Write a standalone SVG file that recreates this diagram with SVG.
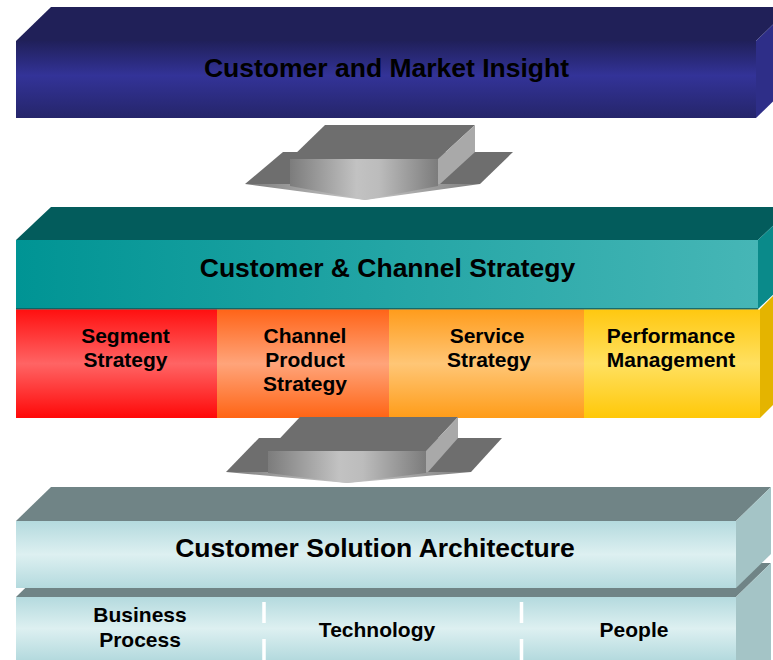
<svg xmlns="http://www.w3.org/2000/svg" width="773" height="660" viewBox="0 0 773 660">
  <style>
    text { font-family: "Liberation Sans", Arial, sans-serif; font-weight: bold; fill: #000; text-anchor: middle; }
    .title { font-size: 26.5px; }
    .sub { font-size: 21px; }
    .arrowTop { fill: #6e6e6e; }
    .arrowSide { fill: #a9a9a9; }
  </style>
  <defs>
    <linearGradient id="blueFront" x1="0" y1="0" x2="0" y2="1">
      <stop offset="0" stop-color="#20205a"/>
      <stop offset="0.45" stop-color="#333398"/>
      <stop offset="1" stop-color="#25256a"/>
    </linearGradient>
    <linearGradient id="tealFront" x1="0" y1="0" x2="1" y2="0">
      <stop offset="0" stop-color="#009494"/>
      <stop offset="1" stop-color="#46b6b6"/>
    </linearGradient>
    <linearGradient id="redCell" x1="0" y1="0" x2="0" y2="1">
      <stop offset="0" stop-color="#ff1010"/>
      <stop offset="0.5" stop-color="#ff6464"/>
      <stop offset="1" stop-color="#ff0808"/>
    </linearGradient>
    <linearGradient id="orangeCell" x1="0" y1="0" x2="0" y2="1">
      <stop offset="0" stop-color="#ff6418"/>
      <stop offset="0.5" stop-color="#ffa47a"/>
      <stop offset="1" stop-color="#ff6414"/>
    </linearGradient>
    <linearGradient id="amberCell" x1="0" y1="0" x2="0" y2="1">
      <stop offset="0" stop-color="#ff9c1c"/>
      <stop offset="0.5" stop-color="#ffc676"/>
      <stop offset="1" stop-color="#ff9c18"/>
    </linearGradient>
    <linearGradient id="yellowCell" x1="0" y1="0" x2="0" y2="1">
      <stop offset="0" stop-color="#ffc810"/>
      <stop offset="0.5" stop-color="#ffe060"/>
      <stop offset="1" stop-color="#ffc808"/>
    </linearGradient>
    <linearGradient id="paleFront" x1="0" y1="0" x2="0" y2="1">
      <stop offset="0" stop-color="#b4dade"/>
      <stop offset="0.5" stop-color="#ddf0f1"/>
      <stop offset="1" stop-color="#b4dade"/>
    </linearGradient>
    <linearGradient id="arrowFront" x1="0" y1="0" x2="1" y2="0">
      <stop offset="0" stop-color="#7c7c7c"/>
      <stop offset="0.45" stop-color="#c2c2c2"/>
      <stop offset="0.6" stop-color="#bcbcbc"/>
      <stop offset="1" stop-color="#7c7c7c"/>
    </linearGradient>
  </defs>

  <!-- Customer and Market Insight block -->
  <g id="market-insight">
    <polygon points="16,41 51,7 791,7 756,41" fill="#202058"/>
    <polygon points="756,41 791,7 791,84 756,118" fill="#2e2e88"/>
    <rect x="16" y="41" width="740" height="77" fill="url(#blueFront)"/>
    <text class="title" x="386.5" y="77">Customer and Market Insight</text>
  </g>

  <!-- Customer & Channel Strategy block -->
  <g id="channel-strategy">
    <polygon points="16,240 51,207 793,207 758,240" fill="#035c5c"/>
    <polygon points="758,240 793,207 793,276 758,309" fill="#0a8a8a"/>
    <rect x="16" y="240" width="742" height="69" fill="url(#tealFront)"/>
    <line x1="16" y1="309" x2="758" y2="309" stroke="#0c5656" stroke-width="1.5"/>
    <text class="title" x="387.5" y="277">Customer &amp; Channel Strategy</text>
  </g>

  <!-- Strategy components row -->
  <g id="strategy-row">
    <polygon points="760,309 795,274 795,383 760,418" fill="#e4b400"/>
  </g>
  <g id="segment-strategy">
    <rect x="16" y="309.5" width="201" height="108.5" fill="url(#redCell)"/>
    <text class="sub" x="125.5" y="343">Segment</text>
    <text class="sub" x="125.5" y="367">Strategy</text>
  </g>
  <g id="channel-product-strategy">
    <rect x="217" y="309.5" width="172" height="108.5" fill="url(#orangeCell)"/>
    <text class="sub" x="305" y="343">Channel</text>
    <text class="sub" x="305" y="367">Product</text>
    <text class="sub" x="305" y="391">Strategy</text>
  </g>
  <g id="service-strategy">
    <rect x="389" y="309.5" width="195" height="108.5" fill="url(#amberCell)"/>
    <text class="sub" x="487" y="343">Service</text>
    <text class="sub" x="489" y="367">Strategy</text>
  </g>
  <g id="performance-management">
    <rect x="584" y="309.5" width="176" height="108.5" fill="url(#yellowCell)"/>
    <text class="sub" x="671" y="343">Performance</text>
    <text class="sub" x="671" y="367">Management</text>
  </g>

  <!-- Customer Solution Architecture blocks -->
  <g id="solution-base">
    <polygon points="16,597 51,563 771,563 736,597" fill="#708486"/>
    <polygon points="736,597 771,563 771,660 736,660" fill="#a4c4c6"/>
    <rect x="16" y="597" width="720" height="63" fill="url(#paleFront)"/>
  </g>
  <g id="solution-architecture">
    <polygon points="16,521 51,487 771,487 736,521" fill="#708486"/>
    <polygon points="736,521 771,487 771,554 736,588" fill="#a4c4c6"/>
    <rect x="16" y="521" width="720" height="67" fill="url(#paleFront)"/>
    <text class="title" x="375" y="557">Customer Solution Architecture</text>
  </g>
  <g id="business-process">
    <text class="sub" x="140" y="622">Business</text>
    <text class="sub" x="140" y="647">Process</text>
  </g>
  <g id="technology">
    <text class="sub" x="377" y="637">Technology</text>
  </g>
  <g id="people">
    <text class="sub" x="634" y="637">People</text>
  </g>

  <!-- Connectors: flow arrows and column dividers -->
  <g id="connectors">
    <!-- arrow from insight to strategy -->
    <g id="arrow-insight-strategy">
      <polygon class="arrowTop" points="245,184 283,152 513,152 480,184"/>
      <polygon fill="url(#arrowFront)" points="245,184 480,184 365,200"/>
      <polygon class="arrowTop" points="290,159 325,125 475,125 438,159"/>
      <polygon class="arrowSide" points="438,159 475,125 475,152 440,184 438,184"/>
      <polygon fill="url(#arrowFront)" points="290,159 438,159 438,186 365,200 290,186"/>
    </g>
    <!-- arrow from strategy to architecture -->
    <g id="arrow-strategy-architecture">
      <polygon class="arrowTop" points="226,472 259,438 502,438 471,472"/>
      <polygon fill="url(#arrowFront)" points="226,472 471,472 347,483"/>
      <polygon class="arrowTop" points="268,451 300,417 458,417 426,451"/>
      <polygon class="arrowSide" points="426,451 458,417 458,438 428,472 426,472"/>
      <polygon fill="url(#arrowFront)" points="268,451 426,451 426,473 347,483 268,473"/>
    </g>
    <!-- dashed dividers in the base row -->
    <line x1="264" y1="602" x2="264" y2="660" stroke="#ffffff" stroke-width="3.5" stroke-dasharray="21,16"/>
    <line x1="521.5" y1="602" x2="521.5" y2="660" stroke="#ffffff" stroke-width="3.5" stroke-dasharray="21,16"/>
  </g>
</svg>
